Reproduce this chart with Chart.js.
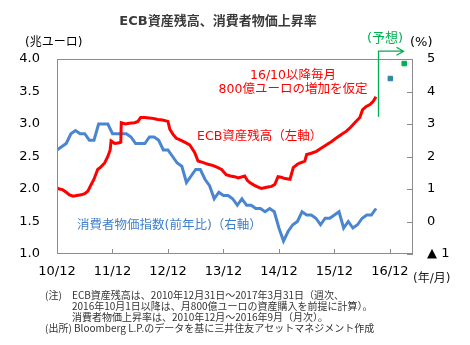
<!DOCTYPE html>
<html><head><meta charset="utf-8">
<script src="https://cdn.jsdelivr.net/npm/chart.js@4/dist/chart.umd.min.js"></script>
<style>html,body{margin:0;padding:0;background:#fff}#wrap{width:470px;height:345px}</style>
</head><body><div id="wrap"><canvas id="c" width="470" height="345"></canvas></div>
<script>
// x axis: months since Dec 2010
const xTickMonths = [0, 12, 24, 36, 48, 60, 72];
const xTickLabels = ['10/12', '11/12', '12/12', '13/12', '14/12', '15/12', '16/12'];
const leftTicks = [1.0, 1.5, 2.0, 2.5, 3.0, 3.5, 4.0];
const rightTicks = [-1, 0, 1, 2, 3, 4, 5];
const rightTickLabels = ['▲ 1', '0', '1', '2', '3', '4', '5'];

// ECB total assets (trillion EUR), left axis
const ecbMonths = [0.0,0.5,1.2,2.0,2.7,3.5,4.3,5.2,6.0,6.7,7.4,8.0,8.8,9.5,10.3,11.0,11.5,11.7,12.5,13.5,13.8,13.9,14.8,15.6,16.8,17.5,18.1,19.0,20.4,21.1,21.8,22.8,24.0,24.4,25.1,25.8,26.5,27.6,28.7,29.8,30.5,31.5,32.7,33.8,34.8,35.6,36.6,37.5,38.4,39.2,40.6,41.2,41.7,42.6,43.5,44.2,44.9,45.6,46.4,47.1,47.8,48.5,49.3,50.4,51.1,52.0,52.5,53.6,54.0,55.0,56.1,57.2,58.3,59.4,60.5,61.5,62.6,63.5,64.4,65.5,66.1,66.9,67.7,68.4,69.0];
const ecbValues = [2.02,2.00,1.99,1.95,1.91,1.89,1.90,1.91,1.93,1.97,2.07,2.15,2.30,2.34,2.40,2.50,2.60,2.74,2.70,2.71,2.72,3.02,3.00,3.01,3.02,3.04,3.10,3.10,3.09,3.08,3.07,3.06,3.04,2.92,2.84,2.78,2.76,2.72,2.68,2.56,2.43,2.41,2.38,2.36,2.33,2.30,2.22,2.20,2.19,2.17,2.20,2.13,2.10,2.06,2.03,2.01,2.02,2.03,2.04,2.07,2.19,2.18,2.16,2.15,2.33,2.38,2.40,2.43,2.53,2.55,2.58,2.63,2.68,2.73,2.79,2.84,2.89,2.95,3.02,3.10,3.22,3.27,3.30,3.35,3.42];
// ECB forecast points (Dec 2016, Mar 2017)
const ecbForecastMonths = [72.1, 75.1];
const ecbForecastValues = [3.70, 3.93];

// Euro area HICP y/y (%), Dec 2010 .. Sep 2016, right axis
const cpiValues = [2.2,2.3,2.4,2.7,2.8,2.7,2.7,2.5,2.5,3.0,3.0,3.0,2.7,
  2.7,2.7,2.7,2.6,2.4,2.4,2.4,2.6,2.6,2.5,2.2,2.2,
  2.0,1.8,1.7,1.2,1.4,1.6,1.6,1.3,1.1,0.7,0.9,0.8,
  0.8,0.7,0.5,0.7,0.5,0.5,0.4,0.4,0.3,0.4,0.3,-0.2,
  -0.6,-0.3,-0.1,0.0,0.3,0.2,0.2,0.1,-0.1,0.1,0.1,0.2,
  0.3,-0.2,0.0,-0.2,-0.1,0.1,0.2,0.2,0.4];

const FONT = '"DejaVu Sans", "Noto Sans CJK JP", sans-serif';
const JFONT = '"DejaVu Sans", "Noto Sans CJK JP", sans-serif';
const NFONT = '"Noto Sans CJK JP", sans-serif';

const ecbData = ecbMonths.map((m, i) => ({x: m, y: ecbValues[i]}));
const cpiData = cpiValues.map((v, i) => ({x: i, y: v}));
const fcData = ecbForecastMonths.map((m, i) => ({x: m, y: ecbForecastValues[i]}));

const decor = {
  id: 'decor',
  afterDatasetsDraw(chart) {
    const ctx = chart.ctx, a = chart.chartArea;
    const xs = chart.scales.x, y = chart.scales.y, y2 = chart.scales.y2;
    ctx.save();
    // frame
    ctx.strokeStyle = '#8c8c8c'; ctx.lineWidth = 1;
    ctx.strokeRect(Math.round(a.left) + 0.5, Math.round(a.top) + 0.5, Math.round(a.right - a.left) - 1, Math.round(a.bottom - a.top) - 1);
    // inner ticks
    ctx.beginPath();
    xTickMonths.forEach(m => {
      if (m === 0) return;
      const px = Math.round(xs.getPixelForValue(m)) + 0.5;
      ctx.moveTo(px, a.bottom); ctx.lineTo(px, a.bottom - 5);
    });
    rightTicks.forEach(v => {
      const py = Math.round(y2.getPixelForValue(v)) + 0.5;
      ctx.moveTo(a.right, py); ctx.lineTo(a.right - 6, py);
    });
    ctx.stroke();
    // forecast marker line + arrow
    const fx = Math.round(xs.getPixelForValue(69.5)) + 0.5;
    const ftop = y.getPixelForValue(4.12), fbot = y.getPixelForValue(3.11);
    ctx.strokeStyle = '#00b050'; ctx.lineWidth = 1.3;
    ctx.beginPath();
    ctx.moveTo(fx, fbot); ctx.lineTo(fx, ftop); ctx.lineTo(fx + 25, ftop);
    ctx.moveTo(fx + 18, ftop - 4); ctx.lineTo(fx + 25, ftop); ctx.lineTo(fx + 18, ftop + 4);
    ctx.stroke();
    // texts
    ctx.textBaseline = 'middle';
    ctx.fillStyle = '#3a3a3a'; ctx.textAlign = 'center';
    ctx.font = 'bold 13px ' + JFONT;
    ctx.fillText('ECB資産残高、消費者物価上昇率', 218, 22);
    ctx.fillStyle = '#000';
    ctx.font = '12px ' + JFONT; ctx.textAlign = 'left';
    ctx.fillText('(兆ユーロ)', 25, 43);
    ctx.font = '13px ' + FONT;
    ctx.fillText('(%)', 410, 43);
    ctx.fillStyle = '#00b050'; ctx.textAlign = 'center';
    ctx.font = '13px ' + JFONT;
    ctx.fillText('(予想)', 385, 39);
    ctx.fillStyle = '#ff0000';
    ctx.font = '12.5px ' + JFONT;
    ctx.fillText('16/10以降毎月', 293, 76);
    ctx.fillText('800億ユーロの増加を仮定', 293, 90);
    ctx.textAlign = 'left';
    ctx.fillText('ECB資産残高（左軸）', 197, 137);
    ctx.fillStyle = '#3f80cc';
    ctx.fillText('消費者物価指数(前年比)（右軸）', 77, 226);
    ctx.fillStyle = '#222';
    ctx.font = '12px ' + JFONT;
    ctx.fillText('(年/月)', 413, 279);
    ctx.fillStyle = '#333';
    ctx.font = '10px ' + NFONT;
    ctx.fillText('(注)', 45, 295);
    ctx.fillText('ECB資産残高は、2010年12月31日～2017年3月31日（週次、', 72, 295);
    ctx.fillText('2016年10月1日以降は、月800億ユーロの資産購入を前提に計算）。', 72, 306);
    ctx.fillText('消費者物価上昇率は、2010年12月～2016年9月（月次）。', 72, 317);
    ctx.fillText('(出所) Bloomberg L.P.のデータを基に三井住友アセットマネジメント作成', 45, 328);
    ctx.restore();
  }
};

new Chart(document.getElementById('c'), {
  type: 'line',
  data: {
    datasets: [
      {label: 'ECB', data: ecbData, yAxisID: 'y', borderColor: '#ff0000', borderWidth: 3, pointRadius: 0, tension: 0},
      {label: 'CPI', data: cpiData, yAxisID: 'y2', borderColor: '#4a86d0', borderWidth: 3, pointRadius: 0, tension: 0},
      {label: 'ECB予想', data: fcData, yAxisID: 'y', type: 'scatter', showLine: false,
        pointStyle: 'rect', pointRadius: 3.2, backgroundColor: '#00b050',
        borderColor: ['#4472c4', '#00b050'], borderWidth: 1}
    ]
  },
  options: {
    responsive: false, animation: false, devicePixelRatio: 1,
    layout: {padding: {top: 59, bottom: 66, left: 0, right: 0}},
    plugins: {legend: {display: false}, tooltip: {enabled: false}, title: {display: false}},
    scales: {
      x: {
        type: 'linear', min: 0, max: 77,
        afterBuildTicks: s => { s.ticks = xTickMonths.map(v => ({value: v})); },
        afterFit: s => { s.height = 25; },
        grid: {display: false, drawTicks: false},
        border: {display: false},
        ticks: {padding: 10, maxRotation: 0, autoSkip: false, color: '#000', font: {family: FONT, size: 13},
          callback: v => xTickLabels[xTickMonths.indexOf(v)]}
      },
      y: {
        position: 'left', min: 1, max: 4,
        afterBuildTicks: s => { s.ticks = leftTicks.map(v => ({value: v})); },
        afterFit: s => { s.width = 57; },
        grid: {display: false, drawTicks: false}, border: {display: false},
        ticks: {padding: 17, color: '#000', font: {family: FONT, size: 13}, callback: v => v.toFixed(1)}
      },
      y2: {
        position: 'right', min: -1, max: 5,
        afterBuildTicks: s => { s.ticks = rightTicks.map(v => ({value: v})); },
        afterFit: s => { s.width = 57; },
        grid: {display: false, drawTicks: false}, border: {display: false},
        ticks: {padding: 14, color: '#000', font: {family: FONT, size: 13},
          callback: v => rightTickLabels[rightTicks.indexOf(v)]}
      }
    }
  },
  plugins: [decor]
});
</script></body></html>
